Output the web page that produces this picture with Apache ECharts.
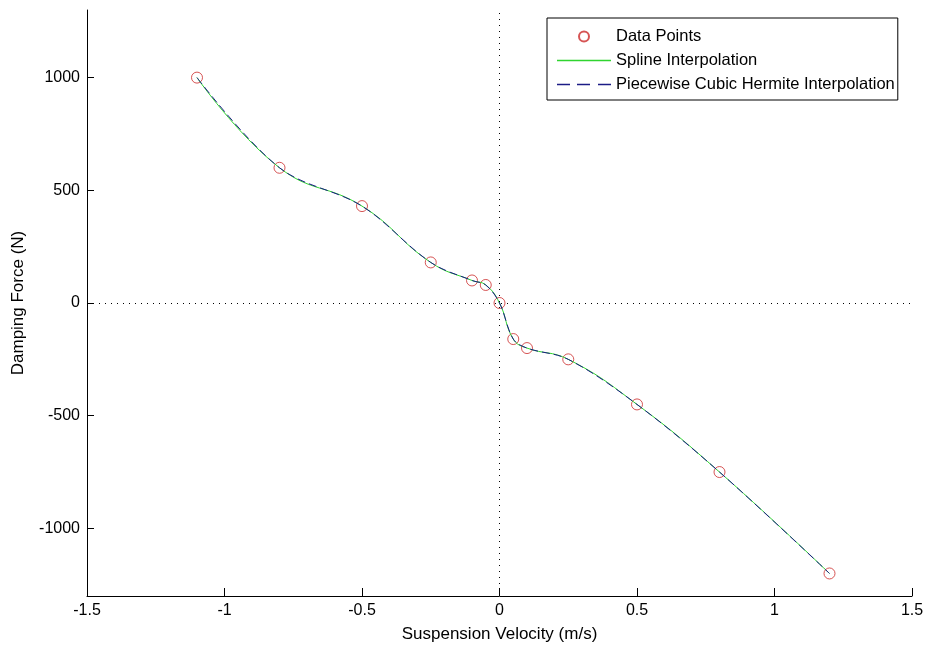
<!DOCTYPE html>
<html>
<head>
<meta charset="utf-8">
<script src="https://cdn.jsdelivr.net/npm/echarts@6/dist/echarts.min.js"></script>
<style>
  html, body { margin: 0; padding: 0; background: #fff; }
  #chart { width: 927px; height: 648px; }
</style>
</head>
<body>
<div id="chart"></div>
<script>
// suspension velocity (m/s) vs damping force (N)
var velocity = [-1.1, -0.8, -0.5, -0.25, -0.1, -0.05, 0, 0.05, 0.1, 0.25, 0.5, 0.8, 1.2];
var force = [1000, 600, 430, 180, 100, 80, 0, -160, -200, -250, -450, -750, -1200];
var yTicks = [-1000, -500, 0, 500, 1000];
var seriesNames = ['Data Points', 'Spline Interpolation', 'Piecewise Cubic Hermite Interpolation'];

var points = velocity.map(function (v, i) { return [v, force[i]]; });

var font = 'Arial, "Liberation Sans", sans-serif';
var splineColor = '#2fd42f';
var hermiteColor = '#1c1c86';
var myChart = echarts.init(document.getElementById('chart'));

// legend icons drawn as thin bars (solid / dashed)
var solidIcon = 'path://M0,0h54v1.3h-54z';
var dashIcon = 'path://M0,0h13v1.3h-13zM20,0h13v1.3h-13zM41,0h13v1.3h-13z';

var option = {
    backgroundColor: '#fff',
    animation: false,
    grid: { left: 87, right: 15, top: 10, bottom: 51 },
    legend: {
        orient: 'vertical',
        left: 547,
        top: 18,
        data: [
            { name: seriesNames[0] },
            { name: seriesNames[1], icon: solidIcon },
            { name: seriesNames[2], icon: dashIcon }
        ],
        backgroundColor: '#fff',
        borderColor: '#000',
        borderWidth: 1,
        borderRadius: 0,
        padding: [10, 3, 7, 10],
        itemWidth: 54,
        itemHeight: 10,
        itemGap: 7,
        textStyle: { fontFamily: font, fontSize: 16.5, color: '#000' }
    },
    xAxis: {
        type: 'value',
        min: -1.5,
        max: 1.5,
        interval: 0.5,
        name: 'Suspension Velocity (m/s)',
        nameLocation: 'middle',
        nameGap: 30,
        nameTextStyle: { fontFamily: font, fontSize: 17, color: '#000' },
        axisLine: { onZero: false, lineStyle: { color: '#000', width: 1 } },
        axisTick: { inside: true, length: 8, lineStyle: { color: '#000' } },
        axisLabel: { fontFamily: font, fontSize: 16, color: '#000', margin: 7 },
        splitLine: { show: false }
    },
    yAxis: {
        type: 'value',
        min: -1300,
        max: 1300,
        name: 'Damping Force (N)',
        nameLocation: 'middle',
        nameGap: 60,
        nameTextStyle: { fontFamily: font, fontSize: 17, color: '#000' },
        axisLine: { show: true, onZero: false, lineStyle: { color: '#000', width: 1 } },
        axisTick: { show: true, inside: true, length: 7, customValues: yTicks, lineStyle: { color: '#000' } },
        axisLabel: {
            fontFamily: font, fontSize: 16, color: '#000', margin: 7, customValues: yTicks,
            formatter: function (v) { return String(v); }
        },
        splitLine: { show: false }
    },
    series: [
        {
            name: seriesNames[0],
            type: 'scatter',
            data: points,
            symbol: 'circle',
            symbolSize: 11,
            itemStyle: { color: 'rgba(255,255,255,0)', borderColor: '#cc2a2a', borderWidth: 1 },
            z: 3,
            markLine: {
                silent: true,
                symbol: 'none',
                label: { show: false },
                lineStyle: { color: '#000', width: 1, type: [1, 5] },
                data: [{ xAxis: 0 }, { yAxis: 0 }]
            }
        },
        {
            name: seriesNames[1],
            type: 'line',
            data: points,
            smooth: 0.45,
            symbol: 'none',
            lineStyle: { color: splineColor, width: 1 },
            itemStyle: { color: splineColor },
            z: 4
        },
        {
            name: seriesNames[2],
            type: 'line',
            data: points,
            smooth: 0.35,
            symbol: 'none',
            lineStyle: { color: hermiteColor, width: 1, type: [8, 4] },
            itemStyle: { color: hermiteColor },
            z: 5
        }
    ]
};

myChart.setOption(option);
</script>
</body>
</html>
